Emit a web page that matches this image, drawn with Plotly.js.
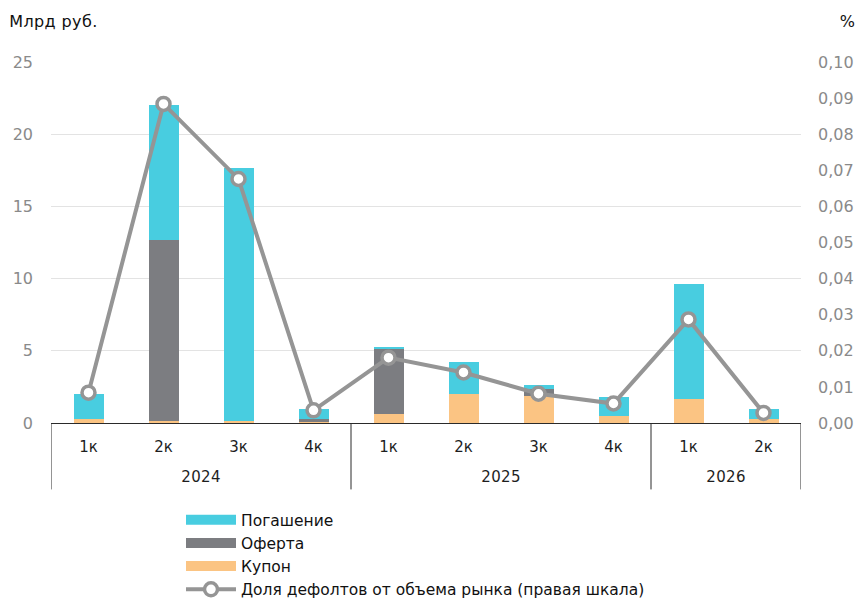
<!DOCTYPE html>
<html>
<head>
<meta charset="utf-8">
<script src="https://cdn.plot.ly/plotly-3.0.1.min.js"></script>
<style>
  html, body { margin: 0; padding: 0; background: #ffffff; }
  #chart { width: 861px; height: 602px; }
  #chart .annotation-text { letter-spacing: 0.4px; }
</style>
</head>
<body>
<div id="chart"></div>
<script>
// Quarterly defaults on the bond market, billion rubles (left) and share of market volume, % (right)
const years    = ['2024', '2024', '2024', '2024', '2025', '2025', '2025', '2025', '2026', '2026'];
const quarters = ['1к', '2к', '3к', '4к', '1к', '2к', '3к', '4к', '1к', '2к'];

const coupon     = [0.30, 0.15, 0.15, 0.10, 0.64, 1.98, 1.90, 0.47, 1.65, 0.25];
const offer      = [0.00, 12.50, 0.00, 0.15, 4.51, 0.00, 0.47, 0.00, 0.00, 0.00];
const redemption = [1.70, 9.40, 17.50, 0.70, 0.14, 2.27, 0.28, 1.30, 7.95, 0.75];
const defaultShare = [0.0084, 0.0884, 0.0676, 0.0035, 0.0181, 0.0140, 0.0081, 0.0054, 0.0287, 0.0028];

const leftTicks  = [0, 5, 10, 15, 20, 25];
const rightTicks = [0, 0.01, 0.02, 0.03, 0.04, 0.05, 0.06, 0.07, 0.08, 0.09, 0.10];

const names = {
  redemption: 'Погашение',
  offer: 'Оферта',
  coupon: 'Купон',
  share: 'Доля дефолтов от объема рынка (правая шкала)'
};
const colors = {
  redemption: '#48CDE0',
  offer: '#7C7D81',
  coupon: '#FBC483',
  share: '#959595'
};

const FONT = '"DejaVu Sans", "Liberation Sans", sans-serif';

// One unique category per quarter; the axis shows only the quarter name
const cats = years.map((y, i) => y + ' ' + quarters[i]);

// Year groups: first and last category index of each year
const groups = [];
years.forEach((y, i) => {
  const g = groups[groups.length - 1];
  if (g && g.year === y) g.end = i;
  else groups.push({ year: y, start: i, end: i });
});

function barTrace(key, values) {
  return {
    type: 'bar',
    x: cats,
    y: values,
    name: names[key],
    legendgroup: key,
    showlegend: false,
    marker: { color: colors[key], line: { width: 0 } },
    hoverinfo: 'y+name'
  };
}

// Legend entries: wide colour strips for the bar series
function legendStrip(key) {
  return {
    type: 'scatter',
    mode: 'lines',
    x: [cats[0]],
    y: [null],
    name: names[key],
    legendgroup: key,
    line: { color: colors[key], width: 10 },
    hoverinfo: 'skip'
  };
}

const traces = [
  barTrace('coupon', coupon),
  barTrace('offer', offer),
  barTrace('redemption', redemption),
  legendStrip('redemption'),
  legendStrip('offer'),
  legendStrip('coupon'),
  {
    type: 'scatter',
    mode: 'lines+markers',
    x: cats,
    y: defaultShare,
    yaxis: 'y2',
    name: names.share,
    legendgroup: 'share',
    line: { color: colors.share, width: 4 },
    marker: { size: 13, color: '#ffffff', line: { color: colors.share, width: 3.5 } },
    cliponaxis: false
  }
];

const W = 861, H = 602;
const M = { l: 51, r: 60, t: 62, b: 178.5, autoexpand: false };
const plotW = W - M.l - M.r;
const plotH = H - M.t - M.b;
const px = x => (x - M.l) / plotW;
const py = y => (H - M.b - y) / plotH;

const AXIS_COLOR = '#2a2a2a';
const BOX_BOTTOM = py(490);

// Group dividers: boxes under the axis separating the years
const boundaries = [groups[0].start - 0.5].concat(groups.map(g => g.end + 0.5));
const dividerShapes = boundaries.map(b => ({
  type: 'line',
  xref: 'x', yref: 'paper',
  x0: b, x1: b,
  y0: 0, y1: BOX_BOTTOM,
  line: { color: AXIS_COLOR, width: 1 },
  layer: 'above'
}));

const yearLabels = groups.map(g => ({
  xref: 'x', yref: 'paper',
  x: (g.start + g.end) / 2,
  y: py(478),
  xanchor: 'center', yanchor: 'middle',
  text: g.year,
  showarrow: false,
  font: { family: FONT, size: 15, color: '#1e1e1e' }
}));

const layout = {
  width: W,
  height: H,
  margin: M,
  paper_bgcolor: '#ffffff',
  plot_bgcolor: '#ffffff',
  separators: ', ',
  font: { family: FONT, size: 16, color: '#1a1a1a' },
  barmode: 'stack',
  bargap: 0.6,
  showlegend: true,
  legend: {
    orientation: 'v',
    x: px(181),
    y: py(H + 5),
    xanchor: 'left',
    yanchor: 'bottom',
    itemwidth: 50,
    tracegroupgap: 0,
    traceorder: 'normal',
    font: { family: FONT, size: 15.5, color: '#111111' },
    bgcolor: 'rgba(0,0,0,0)'
  },
  xaxis: {
    type: 'category',
    categoryorder: 'array',
    categoryarray: cats,
    tickvals: cats,
    ticktext: quarters,
    range: [-0.5, cats.length - 0.5],
    automargin: false,
    showline: true,
    linecolor: AXIS_COLOR,
    linewidth: 1,
    showgrid: false,
    zeroline: false,
    ticks: '',
    ticklabelstandoff: 10,
    tickfont: { family: FONT, size: 15, color: '#1e1e1e' },
    fixedrange: true
  },
  yaxis: {
    range: [0, 25],
    automargin: false,
    tickvals: leftTicks,
    ticktext: leftTicks.map(String),
    showline: false,
    zeroline: false,
    showgrid: true,
    gridcolor: '#e3e3e3',
    gridwidth: 1,
    ticks: '',
    ticklabelstandoff: 17,
    tickfont: { family: FONT, size: 16, color: '#8a8a8a' },
    fixedrange: true
  },
  yaxis2: {
    overlaying: 'y',
    side: 'right',
    range: [0, 0.10],
    automargin: false,
    tickvals: rightTicks,
    tickformat: '.2f',
    showline: false,
    zeroline: false,
    showgrid: false,
    ticks: '',
    ticklabelstandoff: 16,
    tickfont: { family: FONT, size: 16, color: '#8a8a8a' },
    fixedrange: true
  },
  shapes: dividerShapes,
  annotations: [
    {
      xref: 'paper', yref: 'paper',
      x: px(9), y: py(21),
      xanchor: 'left', yanchor: 'middle',
      text: 'Млрд руб.',
      showarrow: false,
      font: { family: FONT, size: 16, color: '#111111' }
    },
    {
      xref: 'paper', yref: 'paper',
      x: px(857), y: py(21),
      xanchor: 'right', yanchor: 'middle',
      text: '%',
      showarrow: false,
      font: { family: FONT, size: 16, color: '#111111' }
    }
  ].concat(yearLabels)
};

Plotly.newPlot('chart', traces, layout, { displayModeBar: false, staticPlot: true });
</script>
</body>
</html>
